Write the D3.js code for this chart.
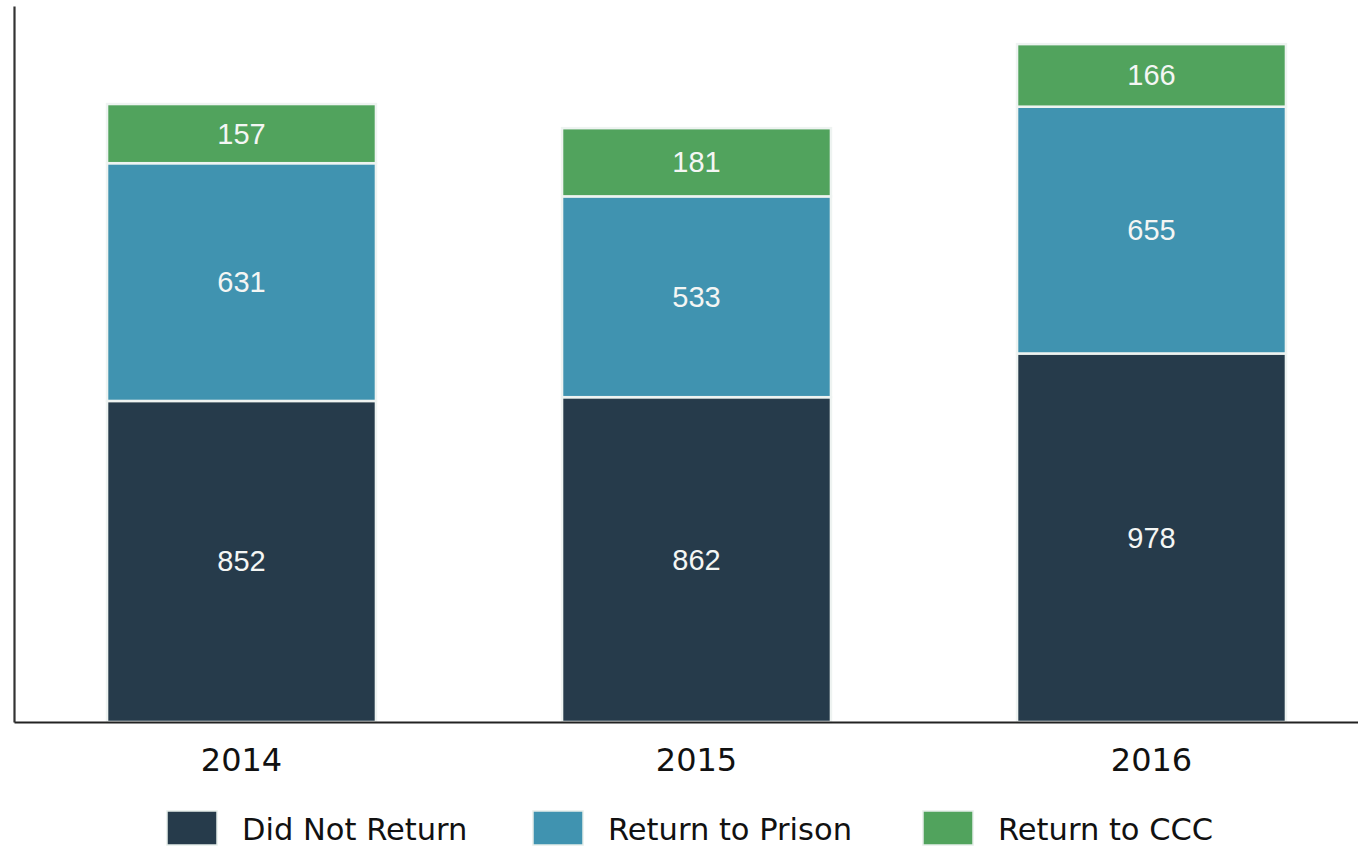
<!DOCTYPE html>
<html>
<head>
<meta charset="utf-8">
<script src="https://cdn.jsdelivr.net/npm/d3@7"></script>
<style>
  body { margin: 0; background: #fff; }
  svg { display: block; }
</style>
</head>
<body>
<div id="chart"></div>
<script>
// data
const years = ["2014", "2015", "2016"];
const seriesNames = ["Did Not Return", "Return to Prison", "Return to CCC"];
const didNotReturn = [852, 862, 978];
const returnToPrison = [631, 533, 655];
const returnToCCC = [157, 181, 166];

const colors = ["#263b4b", "#4093b0", "#51a35d"];

const W = 1358, H = 847;
const axisX = 14, baseY = 722;

const svg = d3
  .select("#chart")
  .append("svg")
  .attr("width", W)
  .attr("height", H);

// table for the stack
const rows = years.map((yr, i) => ({
  year: yr,
  "Did Not Return": didNotReturn[i],
  "Return to Prison": returnToPrison[i],
  "Return to CCC": returnToCCC[i]
}));
const stacked = d3.stack().keys(seriesNames)(rows);

// scales
const x = d3
  .scaleBand()
  .domain(years)
  .range([axisX, axisX + 1365])
  .paddingInner(0.409)
  .paddingOuter(0.2045);
const y = d3.scaleLinear().domain([0, 1900]).range([baseY, baseY - 1900 * 0.3768]);
const color = d3.scaleOrdinal().domain(seriesNames).range(colors);

// bars
const layer = svg
  .selectAll("g.layer")
  .data(stacked)
  .enter()
  .append("g")
  .attr("class", "layer")
  .attr("fill", (d) => color(d.key));

layer
  .selectAll("rect")
  .data((d) => d)
  .enter()
  .append("rect")
  .attr("x", (d) => x(d.data.year))
  .attr("y", (d) => y(d[1]))
  .attr("width", x.bandwidth())
  .attr("height", (d) => y(d[0]) - y(d[1]))
  .attr("stroke", "#eef3f1")
  .attr("stroke-width", 2.5);

// value labels
layer
  .selectAll("text")
  .data((d) => d)
  .enter()
  .append("text")
  .attr("x", (d) => x(d.data.year) + x.bandwidth() / 2)
  .attr("y", (d) => (y(d[0]) + y(d[1])) / 2)
  .attr("text-anchor", "middle")
  .attr("dominant-baseline", "central")
  .style("font-family", "'Liberation Sans', Arial, sans-serif")
  .style("font-size", "29px")
  .style("fill", "#f4f6f4")
  .text((d) => d[1] - d[0]);

// X axis
const xAxis = svg
  .append("g")
  .attr("transform", `translate(0,${baseY})`)
  .call(d3.axisBottom(x).tickSize(0).tickSizeOuter(0).tickPadding(26));
xAxis.select(".domain").attr("stroke", "#222").attr("stroke-width", 2.2);
xAxis
  .selectAll("text")
  .style("font-family", "'DejaVu Sans', sans-serif")
  .style("font-size", "32px")
  .style("fill", "#111");

// Y axis (line only)
const yAxis = svg
  .append("g")
  .attr("transform", `translate(${axisX},0)`)
  .call(d3.axisLeft(y).ticks(0).tickSizeOuter(0));
yAxis.select(".domain").attr("stroke", "#333").attr("stroke-width", 2.2);

// legend
const legendX = [167, 533, 923];
const legend = svg
  .selectAll("g.legend")
  .data(seriesNames)
  .enter()
  .append("g")
  .attr("class", "legend")
  .attr("transform", (d, i) => `translate(${legendX[i]},811)`);

legend
  .append("rect")
  .attr("width", 50)
  .attr("height", 34)
  .attr("fill", (d) => color(d))
  .attr("stroke", "#e6eeea")
  .attr("stroke-width", 1.5);

legend
  .append("text")
  .attr("x", 75)
  .attr("y", 18)
  .attr("dominant-baseline", "central")
  .style("font-family", "'DejaVu Sans', sans-serif")
  .style("font-size", "30.5px")
  .style("fill", "#111")
  .text((d) => d);
</script>
</body>
</html>
